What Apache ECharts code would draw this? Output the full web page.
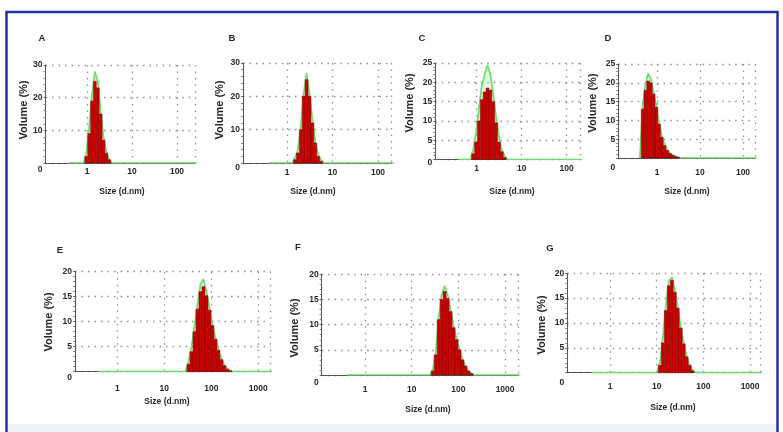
<!DOCTYPE html>
<html>
<head>
<meta charset="UTF-8">
<title>Size distribution by volume</title>
<style>
    html, body {
        margin: 0;
        padding: 0;
        background: #fff;
        overflow: hidden;
    }
    #chart {
        width: 783px;
        height: 432px;
    }
</style>
<script src="https://cdn.jsdelivr.net/npm/echarts@6/dist/echarts.min.js"></script>
</head>
<body>
<div id="chart"></div>
<script>
    // bin sizes (d.nm) with their volume % (red bars) and fitted curve (green line)
    const sizesA = [0.9649, 1.117, 1.294, 1.499, 1.736, 2.010, 2.328, 2.696, 3.122];
    const volumeA = [2, 9, 19, 25, 23, 15, 7, 3, 1];
    const fitA = [3, 11, 21, 28, 25, 16, 8, 3.5, 1];

    const sizesB = [1.499, 1.736, 2.010, 2.328, 2.696, 3.122, 3.615, 4.187, 4.849, 5.615];
    const volumeB = [1, 3, 10, 20, 25, 20, 12, 6, 2, 0.5];
    const fitB = [1.5, 4, 11, 21, 27, 21, 13, 6.5, 2.5, 0.8];

    const sizesC = [0.8332, 0.9649, 1.117, 1.294, 1.499, 1.736, 2.010, 2.328, 2.696, 3.122, 3.615, 4.187];
    const volumeC = [1.5, 4.5, 10, 15.5, 17.5, 18.5, 18, 15, 9.5, 4.5, 2, 0.5];
    const fitC = [2.5, 7, 13, 19, 22, 24.5, 22, 17, 11, 6, 2.5, 0.8];

    const sizesD = [0.4632, 0.5365, 0.6213, 0.7195, 0.8332, 0.9649, 1.117, 1.294, 1.499, 1.736, 2.010, 2.328, 2.696, 3.122];
    const volumeD = [13, 18, 20.5, 20, 17, 13.5, 9, 5.5, 3.3, 2, 1.2, 0.7, 0.4, 0.2];
    const fitD = [14, 19.5, 22.5, 21, 17.5, 14, 9.5, 6, 3.6, 2.2, 1.3, 0.8, 0.4, 0.2];

    const sizesE = [32.67, 37.84, 43.82, 50.75, 58.77, 68.06, 78.82, 91.28, 105.7, 122.4, 141.8, 164.2, 190.1, 220.2, 255.0];
    const volumeE = [1.5, 4, 8, 12.5, 16, 17, 15.2, 12.3, 9.2, 6.5, 4.3, 2.4, 1.2, 0.5, 0.2];
    const fitE = [2, 5, 9, 13.5, 17.5, 18.5, 16, 12.8, 9.6, 6.8, 4.5, 2.6, 1.3, 0.6, 0.2];

    const sizesF = [28.21, 32.67, 37.84, 43.82, 50.75, 58.77, 68.06, 78.82, 91.28, 105.7, 122.4, 141.8, 164.2, 190.1];
    const volumeF = [0.8, 4, 11, 15, 16.6, 15.2, 12.6, 9.4, 7, 5, 3, 1.8, 0.8, 0.3];
    const fitF = [1, 4.5, 11.5, 16, 17.7, 16, 13, 9.8, 7.2, 5.1, 3.1, 1.8, 0.8, 0.3];

    const sizesG = [11.7, 13.54, 15.69, 18.17, 21.04, 24.36, 28.21, 32.67, 37.84, 43.82, 50.75, 58.77];
    const volumeG = [1.5, 6, 12.5, 17.5, 18.6, 16.2, 13, 9, 5.8, 3.2, 1.5, 0.4];
    const fitG = [2, 7, 13.5, 18.5, 19.2, 16.8, 13.3, 9.3, 6, 3.3, 1.5, 0.4];

    // first and last size of the measuring range
    const rangeStart = 0.4;
    const rangeEnd = 10000;

    // panel placement in pixels
    const panels = [
        {key: 'A', sizes: sizesA, volume: volumeA, fit: fitA, x1: 87, dec: 45, min: 0.12, max: 250,
            top: 65, zero: 163, ymax: 30, step: 10, xlab: 9, zlab: 7, yname: 20, nx: 122, ny: 110, nameY: 28.7, lx: 42, ly: 38},
        {key: 'B', sizes: sizesB, volume: volumeB, fit: fitB, x1: 287, dec: 45.5, min: 0.108, max: 200,
            top: 63, zero: 163, ymax: 30, step: 10, xlab: 10, zlab: 5, yname: 23, nx: 313, ny: 110, nameY: 28.7, lx: 232, ly: 38},
        {key: 'C', sizes: sizesC, volume: volumeC, fit: fitC, x1: 476.7, dec: 45, min: 0.12, max: 200,
            top: 63, zero: 159.5, ymax: 25, step: 5, xlab: 9, zlab: 3.5, yname: 25, nx: 512, ny: 103, nameY: 32.5, lx: 422, ly: 38},
        {key: 'D', sizes: sizesD, volume: volumeD, fit: fitD, x1: 657, dec: 43, min: 0.125, max: 190,
            top: 64, zero: 158, ymax: 25, step: 5, xlab: 15, zlab: 10, yname: 25, nx: 687, ny: 103, nameY: 33.5, lx: 608, ly: 38},
        {key: 'E', sizes: sizesE, volume: volumeE, fit: fitE, x1: 117.3, dec: 47, min: 0.126, max: 1800,
            top: 271.7, zero: 371.7, ymax: 20, step: 5, xlab: 17, zlab: 6.3, yname: 26, nx: 167, ny: 322, nameY: 30, lx: 60, ly: 250},
        {key: 'F', sizes: sizesF, volume: volumeF, fit: fitF, x1: 365, dec: 46.7, min: 0.118, max: 1900,
            top: 274.3, zero: 375, ymax: 20, step: 5, xlab: 15, zlab: 8, yname: 27, nx: 428, ny: 328, nameY: 35, lx: 298, ly: 247},
        {key: 'G', sizes: sizesG, volume: volumeG, fit: fitG, x1: 610, dec: 46.7, min: 0.121, max: 1650,
            top: 273.3, zero: 372.7, ymax: 20, step: 5, xlab: 14, zlab: 10.3, yname: 25.6, nx: 673, ny: 325, nameY: 35.3, lx: 550, ly: 248}
    ];

    const font = 'Liberation Sans, Arial, sans-serif';
    const ink = '#262626';
    const dotted = {color: '#8f8f8f', type: [1.5, 5], width: 1.3};

    function shiftPad(d) {
        // padding that moves a centred label by d along its reading direction
        return d >= 0 ? [0, 0, 0, 2 * d] : [0, -2 * d, 0, 0];
    }

    function renderBar(params, api) {
        const v = api.value(1);
        const p0 = api.coord([api.value(2), v]);
        const p1 = api.coord([api.value(3), 0]);
        return {
            type: 'rect',
            shape: {x: p0[0], y: p0[1], width: p1[0] - p0[0], height: p1[1] - p0[1]},
            style: {fill: '#d00000', stroke: '#6a0000', lineWidth: 0.45}
        };
    }

    const grids = [], xAxes = [], yAxes = [], series = [], graphic = [];

    panels.forEach((p, i) => {
        const left = p.x1 + p.dec * Math.log10(p.min);
        const width = p.dec * (Math.log10(p.max) - Math.log10(p.min));
        grids.push({left: left, top: p.top, width: width, height: p.zero - p.top, outerBoundsMode: 'none'});

        const sx = p.nx - (left + width / 2);
        const sy = (p.top + p.zero) / 2 - p.ny;

        xAxes.push({
            type: 'log', logBase: 10, gridIndex: i, min: p.min, max: p.max,
            name: 'Size (d.nm)', nameLocation: 'middle', nameGap: p.nameY - 4.5,
            nameTextStyle: {fontFamily: font, fontWeight: 'bold', fontSize: 8.5, color: ink, padding: shiftPad(sx)},
            axisLine: {show: true, lineStyle: {color: '#555', width: 1}},
            axisTick: {show: false},
            axisLabel: {
                fontFamily: font, fontWeight: 'bold', fontSize: 8.5, color: ink, margin: p.xlab - 4.5,
                formatter: v => {
                    const l = Math.log10(v);
                    return (v >= 1 && Math.abs(l - Math.round(l)) < 1e-6) ? String(Math.round(v)) : '';
                }
            },
            splitLine: {show: true, lineStyle: dotted}
        });

        yAxes.push({
            type: 'value', gridIndex: i, min: 0, max: p.ymax, interval: p.step,
            name: 'Volume (%)', nameLocation: 'middle', nameRotate: 90, nameGap: p.yname - 5.5,
            nameTextStyle: {fontFamily: font, fontWeight: 'bold', fontSize: 11, color: ink, padding: shiftPad(sy)},
            axisLine: {show: true, lineStyle: {color: '#555', width: 1}},
            axisTick: {show: true, length: 2, lineStyle: {color: '#666'}},
            minorTick: {show: true, splitNumber: 5, length: 2, lineStyle: {color: '#888'}},
            axisLabel: {
                fontFamily: font, fontWeight: 'bold', fontSize: 8.5, color: ink, margin: 3,
                formatter: v => v === 0 ? '{z|0}' : String(v),
                rich: {z: {fontFamily: font, fontWeight: 'bold', fontSize: 8.5, color: ink, padding: [2 * p.zlab, 0, 0, 0]}}
            },
            splitLine: {show: true, lineStyle: dotted}
        });

        const ratio = p.sizes[1] / p.sizes[0];
        const half = Math.sqrt(ratio);
        const last = p.sizes[p.sizes.length - 1];

        const fitLine = [[rangeStart, 0], [p.sizes[0] / ratio, 0]]
            .concat(p.sizes.map((s, k) => [s, p.fit[k]]))
            .concat([[last * ratio, 0], [rangeEnd, 0]]);

        series.push({
            type: 'line', xAxisIndex: i, yAxisIndex: i, data: fitLine, symbol: 'none', z: 2, silent: true,
            lineStyle: {color: '#6fdc6f', width: 1.7},
            areaStyle: {color: 'rgba(160,235,160,0.45)'}
        });

        series.push({
            type: 'custom', xAxisIndex: i, yAxisIndex: i, z: 3, silent: true,
            data: p.sizes.map((s, k) => [s, p.volume[k], s / half, s * half]),
            encode: {x: 0, y: 1},
            renderItem: renderBar
        });

        graphic.push({
            type: 'text', x: p.lx, y: p.ly, z: 10,
            style: {text: p.key, fontFamily: font, fontWeight: 'bold', fontSize: 9.5, fill: ink, align: 'center', verticalAlign: 'middle'}
        });
    });

    // figure frame
    graphic.push({
        type: 'rect', z: 0, silent: true,
        shape: {x: 8, y: 424, width: 769, height: 12},
        style: {fill: '#eef0f7'}
    });
    graphic.push({
        type: 'rect', z: 11, silent: true,
        shape: {x: 6.5, y: 12, width: 771, height: 440},
        style: {fill: 'none', stroke: '#26339c', lineWidth: 2.5}
    });

    const chart = echarts.init(document.getElementById('chart'), null, {renderer: 'canvas', width: 783, height: 432});
    chart.setOption({
        animation: false,
        backgroundColor: '#ffffff',
        grid: grids,
        xAxis: xAxes,
        yAxis: yAxes,
        series: series,
        graphic: graphic
    });
</script>
</body>
</html>
